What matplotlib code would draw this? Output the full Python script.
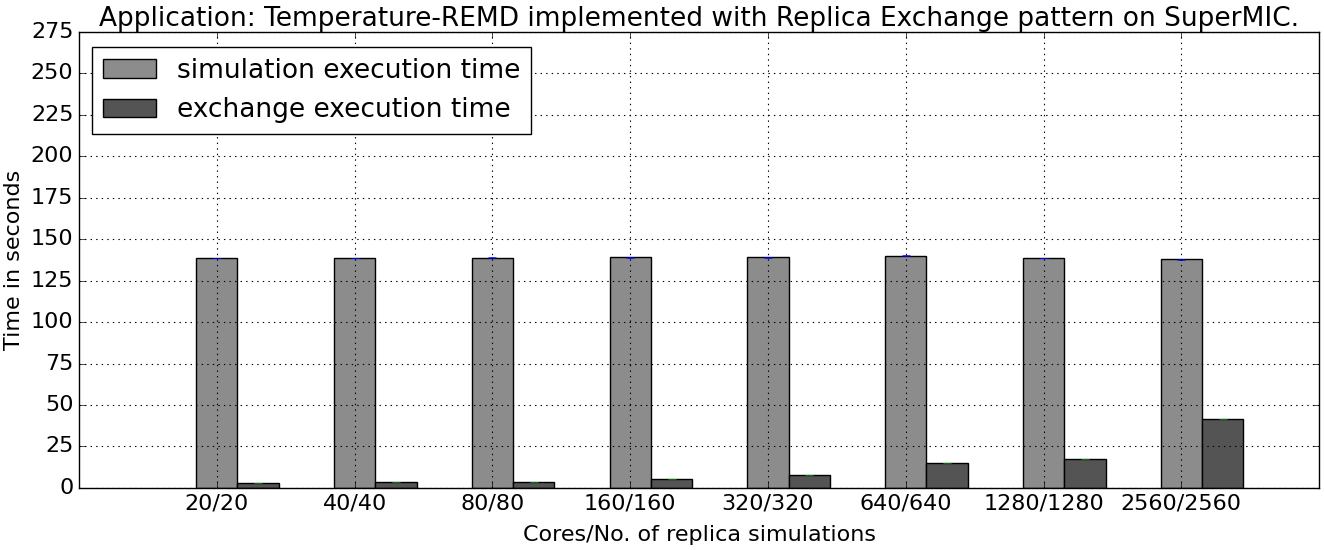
import matplotlib
matplotlib.use("Agg")
import matplotlib.pyplot as plt
import numpy as np

# values
labels = ["20/20", "40/40", "80/80", "160/160", "320/320",
          "640/640", "1280/1280", "2560/2560"]
simTime = [138.7, 138.6, 138.9, 139.1, 139.1, 140.1, 138.7, 137.9]
simErr = [0.2, 0.2, 0.2, 0.2, 0.2, 0.3, 0.2, 0.2]
exchTime = [2.8, 3.4, 3.4, 5.2, 7.8, 14.9, 17.5, 41.6]
exchErr = [0.1, 0.1, 0.1, 0.1, 0.1, 0.1, 0.1, 0.2]

plt.style.use("classic")
plt.rcParams["font.family"] = "DejaVu Sans"

fig = plt.figure(figsize=(13.24, 5.5), dpi=100, facecolor="white")
ax = fig.add_axes([0.0597, 0.113, 0.9366, 0.829])

ind = np.arange(len(labels))
width = 0.3

ax.bar(ind - width / 2, simTime, width, align="edge", color="0.55",
       edgecolor="black", linewidth=1, label="simulation execution time")
ax.bar(ind + width / 2, exchTime, width, align="edge", color="0.33",
       edgecolor="black", linewidth=1, label="exchange execution time")
ax.errorbar(ind, simTime, yerr=simErr, fmt="none", ecolor="b", capsize=3)
ax.errorbar(ind + width, exchTime, yerr=exchErr, fmt="none", ecolor="g", capsize=3)

ax.set_xlim(-1, 8)
ax.set_ylim(0, 275)
ax.set_yticks(np.arange(0, 276, 25))
ax.set_xticks(ind)
ax.set_xticklabels(labels)
ax.tick_params(labelsize=16)
ax.grid(True, linestyle=":", color="black", linewidth=0.8)

ax.set_xlabel("Cores/No. of replica simulations", fontsize=16, labelpad=8)
ax.set_ylabel("Time in seconds", fontsize=16)
ax.set_title("Application: Temperature-REMD implemented with Replica Exchange pattern on SuperMIC.",
             fontsize=19, pad=4)

ax.legend(loc="upper left", fontsize=19, handlelength=2.0,
          bbox_to_anchor=(0.0, 0.995))

fig.savefig("out.png", dpi=100, facecolor="white")
